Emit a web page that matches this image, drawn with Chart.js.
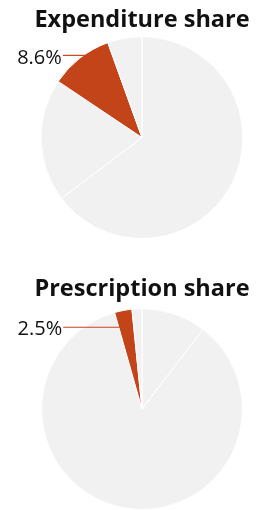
<!DOCTYPE html>
<html>
<head>
<meta charset="utf-8">
<script src="https://cdn.jsdelivr.net/npm/chart.js@4/dist/chart.umd.min.js"></script>
<style>
  html, body { margin: 0; padding: 0; background: #ffffff; }
  .box { position: relative; width: 261px; height: 255px; }
</style>
</head>
<body>
<div class="box"><canvas id="c1"></canvas></div>
<div class="box"><canvas id="c2"></canvas></div>
<script>
// ---- data ----
const titles = ["Expenditure share", "Prescription share"];
const segmentNames = ["Rest A", "Rest B", "Highlighted", "Rest C"];
const expenditureShares = [64.7, 19.7, 10.1, 5.5];
const prescriptionSegmentNames = ["Rest A", "Rest B", "Highlighted", "Rest C"];
const prescriptionShares = [10.4, 85.2, 2.8, 1.6];
const highlightLabels = ["8.6%", "2.5%"];
const highlightIndex = 2;

const GRAY = "#f1f1f1";
const RED = "#c4441a";
const FONT = "'Open Sans', 'DejaVu Sans', sans-serif";

const leaderPlugin = {
  id: "leader",
  afterDatasetsDraw(chart, args, opts) {
    const meta = chart.getDatasetMeta(0);
    const arc = meta.data[opts.index];
    if (!arc) return;
    const p = arc.getProps(["x", "y", "startAngle", "outerRadius"], true);
    const cx = p.x, cy = p.y, r = p.outerRadius;
    const h = 0.82 * r;
    const y = cy - h;
    const a = p.startAngle + Math.PI / 2;
    const xEdge = cx + h * Math.tan(a);
    const xArc = cx - Math.sqrt(r * r - h * h);
    const xEnd = Math.max(xEdge, xArc) + 1;
    const xStart = cx - 0.785 * r;
    const ctx = chart.ctx;
    ctx.save();
    ctx.strokeStyle = RED;
    ctx.lineWidth = 1.2;
    ctx.beginPath();
    ctx.moveTo(xStart, y + 0.5);
    ctx.lineTo(xEnd, y + 0.5);
    ctx.stroke();
    ctx.fillStyle = "#111111";
    ctx.font = "20px " + FONT;
    ctx.textAlign = "right";
    ctx.textBaseline = "middle";
    ctx.fillText(opts.text, xStart - 1, y + 3);
    ctx.restore();
  }
};

function makePie(id, title, names, values, label, padTop, padBottom, titleBottom) {
  return new Chart(document.getElementById(id), {
    type: "pie",
    data: {
      labels: names,
      datasets: [{
        data: values,
        backgroundColor: values.map((v, i) => i === highlightIndex ? RED : GRAY),
        borderColor: "#ffffff",
        borderWidth: 1
      }]
    },
    options: {
      responsive: true,
      maintainAspectRatio: false,
      animation: false,
      layout: { padding: { left: 23, right: 0, top: padTop, bottom: padBottom } },
      plugins: {
        legend: { display: false },
        tooltip: { enabled: false },
        title: {
          display: true,
          text: title,
          color: "#111111",
          font: { family: FONT, size: 23.5, weight: "bold" },
          padding: { top: 6, bottom: titleBottom }
        },
        leader: { index: highlightIndex, text: label }
      }
    },
    plugins: [leaderPlugin]
  });
}

makePie("c1", titles[0], segmentNames, expenditureShares, highlightLabels[0], 0, 16, 2);
makePie("c2", titles[1], prescriptionSegmentNames, prescriptionShares, highlightLabels[1], 14, 0, 5);
</script>
</body>
</html>
